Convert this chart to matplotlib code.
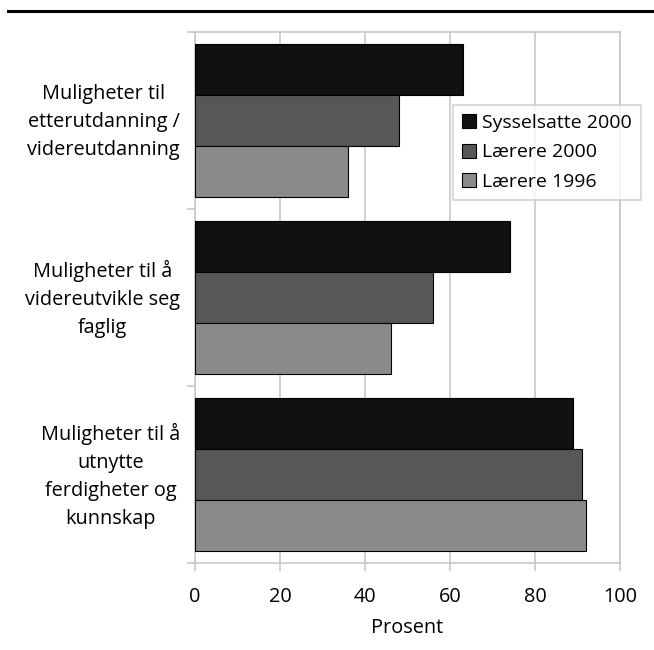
import matplotlib
matplotlib.use("Agg")
import matplotlib.pyplot as plt
from matplotlib.lines import Line2D
import matplotlib.transforms as mtransforms
import numpy as np

categories = ["Muligheter til\netterutdanning /\nvidereutdanning",
              "Muligheter til å\nvidereutvikle seg\nfaglig",
              "Muligheter til å\nutnytte\nferdigheter og\nkunnskap"]
series_names = ["Sysselsatte 2000", "Lærere 2000", "Lærere 1996"]
sysselsatte_2000 = [63, 74, 89]
laerere_2000 = [48, 56, 91]
laerere_1996 = [36, 46, 92]
x_ticks = [0, 20, 40, 60, 80, 100]

series = [sysselsatte_2000, laerere_2000, laerere_1996]
colors = ["#111111", "#575757", "#8a8a8a"]

plt.rcParams['font.family'] = ['Open Sans', 'DejaVu Sans']
fs = 14.3
grid_c = "#c4c4c4"

fig = plt.figure(figsize=(6.54, 6.5), dpi=100)
ax = fig.add_axes([195/654, 87/650, 425/654, 531/650])

h = 0.288
y = np.arange(len(categories))
for i, (vals, c, name) in enumerate(zip(series, colors, series_names)):
    ax.barh(y + (i - 1) * h, vals, height=h, color=c, edgecolor="black",
            linewidth=0.8, label=name, zorder=3)

ax.set_xlim(0, 100)
ax.set_ylim(2.5, -0.5)
ax.set_xticks(x_ticks)
ax.set_xticklabels([str(v) for v in x_ticks], fontsize=fs)
ax.set_yticks([-0.5, 0.5, 1.5, 2.5])
ax.set_yticklabels([])

# category labels, right edge ~15px left of the axis, centred lines
trans = mtransforms.blended_transform_factory(ax.transAxes, ax.transData) + \
    mtransforms.ScaledTranslation(-15/100, -1.5/100, fig.dpi_scale_trans)
for yi, lab in zip(y, categories):
    ax.text(0, yi, lab, transform=trans, ha="right", va="center",
            multialignment="center", fontsize=fs, linespacing=1.55)

ax.tick_params(axis="y", which="major", length=6, width=1.1, color=grid_c)
ax.tick_params(axis="x", which="major", length=6, width=1.1, color=grid_c, pad=11)
ax.grid(axis="x", color=grid_c, linewidth=1.1, zorder=0)
for s in ax.spines.values():
    s.set_color(grid_c)
    s.set_linewidth(1.1)
ax.set_xlabel("Prosent", fontsize=fs, labelpad=8)

handles = [Line2D([0], [0], marker="s", linestyle="none", markersize=10,
                  markerfacecolor=c, markeredgecolor="black", markeredgewidth=0.8)
           for c in colors]
leg = ax.legend(handles, series_names, loc="upper left",
                bbox_to_anchor=((453-195)/425, (563-105)/531),
                fontsize=14, frameon=True, fancybox=False, edgecolor=grid_c,
                handlelength=0.7, handletextpad=0.35, borderpad=0.45,
                labelspacing=0.6, borderaxespad=0)
leg.get_frame().set_linewidth(1.1)

fig.add_artist(Line2D([8/654, 1.0], [1 - 11/650, 1 - 11/650], color="black",
                      linewidth=2.2, transform=fig.transFigure))

fig.savefig("out.png", dpi=100)
